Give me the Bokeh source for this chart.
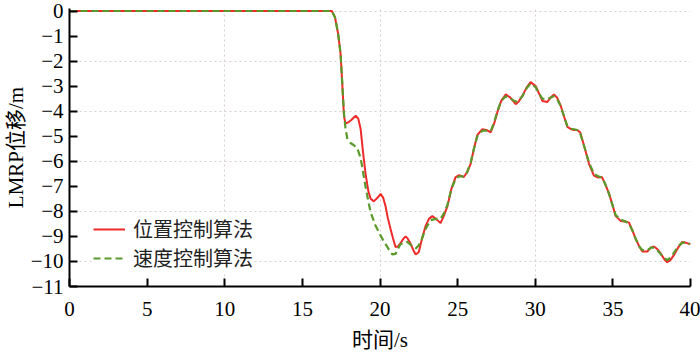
from bokeh.plotting import figure
from bokeh.models import Range1d, FixedTicker, Legend, LegendItem
from bokeh.embed import file_html
from bokeh.resources import INLINE

# ---------------- data ----------------
t_pos = [0, 16.9, 17.1, 17.3, 17.46, 17.57, 17.68, 17.78, 17.95, 18.15, 18.43, 18.6, 18.75, 18.9,
         19.07, 19.25, 19.4, 19.6, 19.85, 20.04, 20.2, 20.36, 20.5, 20.68, 20.85, 21.0, 21.15, 21.3,
         21.5, 21.65, 21.8, 21.97, 22.15, 22.3, 22.5, 22.7, 22.94, 23.15, 23.37, 23.6, 23.9, 24.1,
         24.34, 24.6, 24.87, 25.1, 25.4, 25.6, 25.84, 26.05, 26.27, 26.59, 26.85, 27.13, 27.35,
         27.56, 27.8, 28.1, 28.4, 28.74, 28.95, 29.17, 29.45, 29.7, 30.03, 30.25, 30.46, 30.78,
         31.0, 31.2, 31.4, 31.64, 31.85, 32.07, 32.3, 32.5, 32.7, 32.9, 33.2, 33.46, 33.78, 34.05,
         34.3, 34.5, 34.75, 35.0, 35.18, 35.5, 35.8, 36.04, 36.25, 36.47, 36.7, 36.9, 37.22, 37.45,
         37.65, 37.85, 38.08, 38.3, 38.5, 38.7, 38.94, 39.2, 39.47, 39.7, 40.0]
y_pos = [0, 0, -0.25, -0.9, -1.7, -2.9, -4.2, -4.5, -4.45, -4.35, -4.18, -4.3, -4.7, -5.6,
         -6.5, -7.2, -7.5, -7.6, -7.45, -7.3, -7.45, -7.8, -8.25, -8.7, -9.1, -9.42, -9.4, -9.29,
         -9.1, -9.0, -9.1, -9.29, -9.55, -9.72, -9.62, -9.1, -8.58, -8.3, -8.19, -8.3, -8.47, -8.2,
         -7.8, -7.1, -6.63, -6.55, -6.63, -6.45, -6.1, -5.5, -4.95, -4.72, -4.75, -4.85, -4.5,
         -4.04, -3.6, -3.33, -3.46, -3.72, -3.6, -3.39, -3.05, -2.84, -3.0, -3.3, -3.59, -3.63,
         -3.45, -3.33, -3.45, -3.78, -4.2, -4.63, -4.72, -4.75, -4.75, -4.85, -5.5, -6.1, -6.57, -6.65,
         -6.63, -6.9, -7.28, -7.8, -8.19, -8.38, -8.4, -8.45, -8.75, -9.1, -9.4, -9.6, -9.6, -9.45,
         -9.4, -9.5, -9.68, -9.9, -10.03, -9.95, -9.74, -9.45, -9.22, -9.25, -9.32]

t_vel = [0, 16.9, 17.1, 17.3, 17.46, 17.57, 17.68, 17.78, 17.89, 18.1, 18.3, 18.53, 18.75, 18.9,
         19.07, 19.25, 19.4, 19.7, 20.04, 20.25, 20.47, 20.65, 20.79, 21.0, 21.15, 21.3, 21.5,
         21.75, 22.0, 22.3, 22.5, 22.7, 22.94, 23.26, 23.6, 23.9, 24.1, 24.34, 24.6, 24.87, 25.1,
         25.4, 25.6, 25.84, 26.05, 26.27, 26.59, 26.85, 27.13, 27.35, 27.56, 27.8, 28.1, 28.4,
         28.74, 28.95, 29.17, 29.45, 29.7, 30.03, 30.25, 30.46, 30.78, 31.0, 31.2, 31.4, 31.64,
         31.85, 32.07, 32.3, 32.5, 32.7, 32.9, 33.2, 33.46, 33.78, 34.05, 34.3, 34.5, 34.75, 35.0,
         35.18, 35.5, 35.8, 36.04, 36.25, 36.47, 36.7, 36.9, 37.22, 37.45, 37.65, 37.85, 38.08,
         38.3, 38.5, 38.7, 38.94, 39.2, 39.47, 39.7, 40.0]
y_vel = [0, 0, -0.25, -0.9, -1.7, -2.9, -4.1, -4.7, -5.08, -5.27, -5.35, -5.47, -5.86, -6.4,
         -7.02, -7.6, -8.05, -8.55, -8.97, -9.2, -9.42, -9.6, -9.72, -9.7, -9.5, -9.33, -9.25,
         -9.22, -9.35, -9.48, -9.35, -9.1, -8.7, -8.35, -8.3, -8.3, -8.1, -7.75, -7.1, -6.7, -6.6,
         -6.6, -6.45, -6.05, -5.5, -5.0, -4.78, -4.78, -4.8, -4.45, -4.0, -3.6, -3.4, -3.5,
         -3.62, -3.55, -3.4, -3.08, -2.9, -3.05, -3.3, -3.5, -3.52, -3.45, -3.4, -3.5, -3.8,
         -4.2, -4.6, -4.7, -4.72, -4.75, -4.9, -5.5, -6.05, -6.5, -6.6, -6.65, -6.9, -7.3, -7.8,
         -8.15, -8.33, -8.4, -8.5, -8.75, -9.1, -9.4, -9.55, -9.55, -9.45, -9.45, -9.55, -9.7,
         -9.85, -9.95, -9.85, -9.65, -9.4, -9.25, -9.25, -9.3]

x_ticks = [0, 5, 10, 15, 20, 25, 30, 35, 40]
y_ticks = [0, -1, -2, -3, -4, -5, -6, -7, -8, -9, -10, -11]
y_tick_labels = ["0", "−1", "−2", "−3", "−4", "−5", "−6", "−7", "−8", "−9", "−10", "−11"]
x_grid = [10, 20, 30, 40]
y_grid = [0, -2, -4, -6, -8, -10]
series_names = ["位置控制算法", "速度控制算法"]

SERIF = "'Liberation Serif', 'Noto Sans CJK SC'"

p = figure(width=700, height=354, x_range=Range1d(0, 40), y_range=Range1d(-11, 0.1),
           output_backend="svg", toolbar_location=None,
           min_border_left=69, min_border_right=10, min_border_top=8, min_border_bottom=65)
p.outline_line_color = None
p.background_fill_color = "white"

for ax in (p.xaxis[0], p.yaxis[0]):
    ax.axis_line_width = 2
    ax.axis_line_color = "black"
    ax.major_tick_in = 8
    ax.major_tick_out = 0
    ax.major_tick_line_width = 2
    ax.minor_tick_line_color = None
    ax.major_label_text_font = SERIF
    ax.major_label_text_font_size = "21px"
    ax.major_label_text_color = "black"
    ax.axis_label_text_font = SERIF
    ax.axis_label_text_font_size = "21px"
    ax.axis_label_text_font_style = "normal"
    ax.axis_label_text_color = "black"

p.xaxis.ticker = FixedTicker(ticks=x_ticks)
p.yaxis.ticker = FixedTicker(ticks=y_ticks)
p.yaxis.major_label_overrides = {v: s for v, s in zip(y_ticks, y_tick_labels)}
p.xaxis.major_label_standoff = 15
p.yaxis.major_label_standoff = 6
p.xaxis.axis_label = "时间/s"
p.yaxis.axis_label = "LMRP位移/m"
p.xaxis.axis_label_standoff = 9
p.yaxis.axis_label_standoff = 0

p.xgrid.ticker = FixedTicker(ticks=x_grid)
p.ygrid.ticker = FixedTicker(ticks=y_grid)
for g in (p.xgrid[0], p.ygrid[0]):
    g.grid_line_color = "#d9cfcf"
    g.grid_line_dash = "2 3"
    g.grid_line_width = 1

r1 = p.line(t_pos, y_pos, line_color="#ee2a2a", line_width=2)
r2 = p.line(t_vel, y_vel, line_color="#5a9a2a", line_width=2.2, line_dash="7 4")

legend = Legend(items=[LegendItem(label=series_names[0], renderers=[r1]),
                       LegendItem(label=series_names[1], renderers=[r2])],
                location=(24, 14))
legend.label_text_font = SERIF
legend.label_text_font_size = "20px"
legend.label_text_color = "#222222"
legend.border_line_color = None
legend.background_fill_color = "white"
legend.background_fill_alpha = 1
legend.glyph_width = 32
legend.glyph_height = 20
legend.label_height = 20
legend.label_standoff = 8
legend.spacing = -3
legend.padding = 3
legend.margin = 0
p.add_layout(legend)

open("out.html", "w").write(file_html(p, INLINE))
